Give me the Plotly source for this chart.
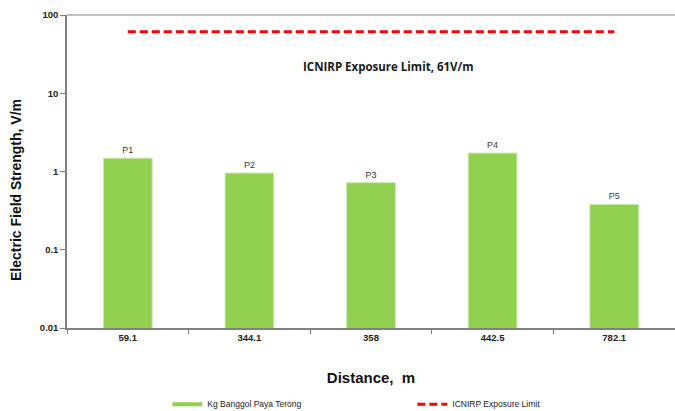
import plotly.graph_objects as go

# Measured field strength at each distance from the source
distances = ["59.1", "344.1", "358", "442.5", "782.1"]
field_strength = [1.48, 0.955, 0.72, 1.72, 0.38]
point_labels = ["P1", "P2", "P3", "P4", "P5"]
exposure_limit = 61
site_name = "Kg Banggol Paya Terong"
limit_name = "ICNIRP Exposure Limit"

y_tickvals = [0.01, 0.1, 1, 10, 100]
y_ticktext = ["0.01", "0.1", "1", "10", "100"]

GREEN = "#92D050"
RED = "#FF0000"

PLOT_TOP, PLOT_BOTTOM, PLOT_LEFT = 15, 328, 67

fig = go.Figure()

fig.add_trace(go.Bar(
    x=distances,
    y=field_strength,
    width=0.4,
    marker=dict(color=GREEN, line=dict(color="#c9e8a8", width=1)),
    text=point_labels,
    textposition="outside",
    textfont=dict(family="Arial", size=9, color="#404040"),
    cliponaxis=False,
    showlegend=False,
))

# legend swatch for the bar series, drawn as a thick line
fig.add_trace(go.Scatter(
    x=[None], y=[None], mode="lines", name=site_name,
    line=dict(color=GREEN, width=4),
))

fig.add_trace(go.Scatter(
    x=distances,
    y=[exposure_limit] * len(distances),
    mode="lines",
    name=limit_name,
    line=dict(color=RED, width=3, dash="8px,4px"),
))

plot_h = PLOT_BOTTOM - PLOT_TOP

fig.add_annotation(
    x=0.528, xref="paper", yref="paper", y=1 - (66 - PLOT_TOP) / plot_h, yanchor="middle",
    text=f"<b>{limit_name}, {exposure_limit}V/m</b>",
    showarrow=False,
    font=dict(family="Open Sans", size=11.5, color="#1a1a1a"),
)

# y-axis title, set a little below the middle of the axis
fig.add_annotation(
    x=-(PLOT_LEFT - 16) / (675 - PLOT_LEFT), xref="paper", xanchor="center",
    y=1 - (190 - PLOT_TOP) / plot_h, yref="paper", yanchor="middle",
    text="<b>Electric Field Strength, V/m</b>", textangle=-90,
    showarrow=False,
    font=dict(family="Arial", size=14, color="#111111"),
)

# light border along the top of the plot area
fig.add_shape(type="line", xref="paper", yref="paper", x0=0, x1=1.02, y0=1, y1=1,
              line=dict(color="#c0c0c0", width=2))

fig.update_layout(
    width=675, height=411,
    margin=dict(l=PLOT_LEFT, r=0, t=PLOT_TOP, b=411 - PLOT_BOTTOM, autoexpand=False),
    paper_bgcolor="white", plot_bgcolor="white",
    bargap=0.6,
    font=dict(family="Arial", color="#000000"),
    legend=dict(
        orientation="h", x=0.165, xanchor="left", y=-0.197, yanchor="top",
        font=dict(family="Arial", size=8.5, color="#222222"),
        itemwidth=30, entrywidth=200, entrywidthmode="pixels",
        traceorder="normal",
    ),
    xaxis=dict(
        type="category",
        range=[-0.5, 4.5],
        showline=True, linecolor="#808080", linewidth=1.5,
        ticks="outside", ticklen=4, tickcolor="#808080", tickson="boundaries",
        tickvals=distances,
        ticktext=[f"<b>{d}</b>" for d in distances],
        tickfont=dict(family="Arial", size=9.5, color="#222222"),
        showgrid=False,
        title=dict(text="<b>Distance,  m</b>", font=dict(family="Arial", size=15, color="#111111"), standoff=30),
    ),
    yaxis=dict(
        type="log",
        range=[-2, 2],
        showline=True, linecolor="#808080", linewidth=1.5,
        ticks="outside", ticklen=5, tickcolor="#808080",
        tickvals=y_tickvals,
        ticktext=[f"<b>{t}</b>" for t in y_ticktext],
        tickfont=dict(family="Arial", size=9.5, color="#222222"),
        showgrid=False, zeroline=False,
    ),
)

fig.write_html("out.html")
